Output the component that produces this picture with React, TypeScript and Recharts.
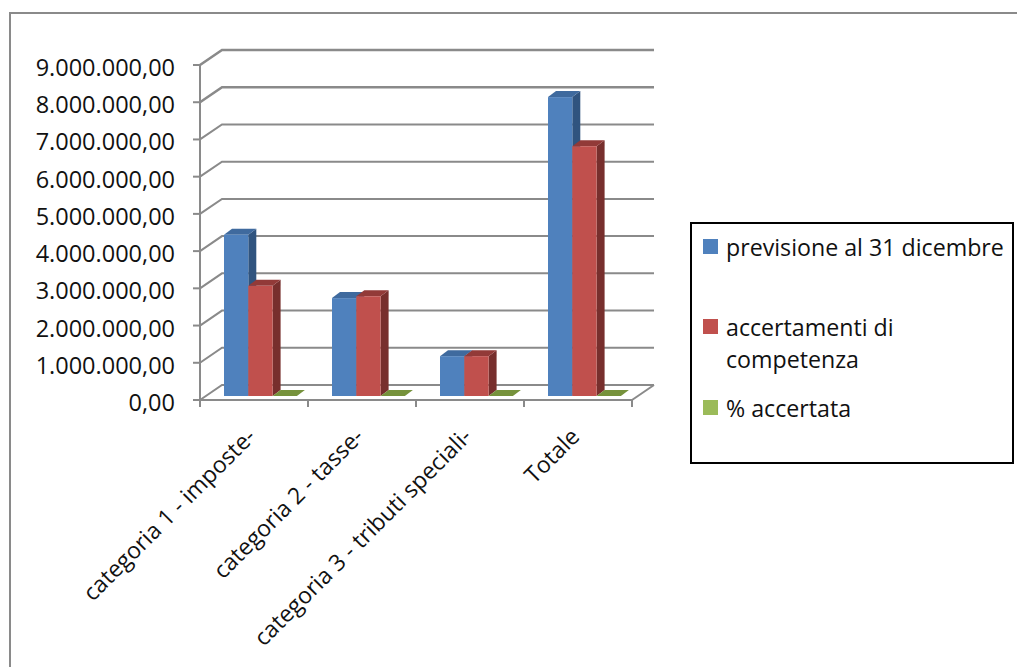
import { BarChart, Bar, XAxis, YAxis, CartesianGrid, Legend } from "recharts";

const categories = [
  "categoria 1 - imposte-",
  "categoria 2 - tasse-",
  "categoria 3 - tributi speciali-",
  "Totale",
];
const previsione = [4330000, 2630000, 1070000, 8030000];
const accertamenti = [2960000, 2680000, 1070000, 6710000];
const accertata = [0.68, 1.02, 1, 0.84];
const yTicks = [0, 1000000, 2000000, 3000000, 4000000, 5000000, 6000000, 7000000, 8000000, 9000000];

const chartData = categories.map((name, i) => ({
  name,
  previsione: previsione[i],
  accertamenti: accertamenti[i],
  accertata: accertata[i],
}));

const FONT = "'Open Sans', sans-serif";
const AXIS_GRAY = "#8a8a8a";
const BAND_WIDTH = 108;

// chart walls: how far the back plane sits from the axis plane
const WALL_DX = 22;
const WALL_DY = -15;
// bars stand partway into the floor, and have this much depth themselves
const BAR_DX = 6;
const BAR_DY = -4;
const DEPTH_DX = 8;
const DEPTH_DY = -6;

const PLOT_BOTTOM = 400;

const sideColors: Record<string, { side: string; top: string }> = {
  "#4f81bd": { side: "#30547f", top: "#3f6a9e" },
  "#c0504d": { side: "#772f2d", top: "#923a38" },
  "#9bbb59": { side: "#5f7a2c", top: "#76923c" },
};

function formatEuro(v: number) {
  const int = String(Math.round(v)).replace(/\B(?=(\d{3})+$)/g, ".");
  return `${int},00`;
}

function Bar3D({ x, y, width, height, fill }: any) {
  const left = x + BAR_DX;
  const top = y + BAR_DY;
  const right = left + width;
  const bottom = top + height;
  const { side, top: topColor } = sideColors[fill];
  return (
    <g>
      <polygon
        points={`${right},${top} ${right + DEPTH_DX},${top + DEPTH_DY} ${right + DEPTH_DX},${bottom + DEPTH_DY} ${right},${bottom}`}
        fill={side}
      />
      <polygon
        points={`${left},${top} ${left + DEPTH_DX},${top + DEPTH_DY} ${right + DEPTH_DX},${top + DEPTH_DY} ${right},${top}`}
        fill={topColor}
      />
      <rect x={left} y={top} width={width} height={height} fill={fill} />
    </g>
  );
}

function WallLine({ x1, y1, x2 }: any) {
  const backY = y1 + WALL_DY;
  const isFloor = Math.abs(y1 - PLOT_BOTTOM) < 1;
  const heavy = y1 < 110;
  return (
    <g>
      <polyline
        points={`${x1},${y1} ${x1 + WALL_DX},${backY} ${x2 + WALL_DX},${backY}`}
        fill="none"
        stroke={AXIS_GRAY}
        strokeWidth={heavy ? 2.6 : 2}
      />
      {isFloor && (
        <line x1={x2} y1={y1} x2={x2 + WALL_DX} y2={backY} stroke={AXIS_GRAY} strokeWidth={2} />
      )}
    </g>
  );
}

function ValueTick({ x, y, payload }: any) {
  return (
    <text x={x} y={y + 11} textAnchor="end" fontSize={23.5} fontFamily={FONT} fill="#111">
      {formatEuro(payload.value)}
    </text>
  );
}

function CategoryTick({ x, payload, index }: any) {
  const tickTop = PLOT_BOTTOM;
  const labelX = x + 3;
  const labelY = tickTop + 38;
  return (
    <g>
      {index === 0 && (
        <line x1={x - BAND_WIDTH / 2} y1={tickTop} x2={x - BAND_WIDTH / 2} y2={tickTop + 7} stroke={AXIS_GRAY} strokeWidth={2} />
      )}
      <line x1={x + BAND_WIDTH / 2} y1={tickTop} x2={x + BAND_WIDTH / 2} y2={tickTop + 7} stroke={AXIS_GRAY} strokeWidth={2} />
      <text
        x={labelX}
        y={labelY}
        textAnchor="end"
        fontSize={23}
        fontFamily={FONT}
        fill="#111"
        transform={`rotate(-45 ${labelX} ${labelY})`}
      >
        {payload.value}
      </text>
    </g>
  );
}

const legendLines: Record<string, string[]> = {
  previsione: ["previsione al 31 dicembre"],
  accertamenti: ["accertamenti di", "competenza"],
  accertata: ["% accertata"],
};
const legendTops: Record<string, number> = { previsione: 10, accertamenti: 90, accertata: 171 };

function LegendBox({ payload }: any) {
  return (
    <div
      style={{
        position: "relative",
        width: 320,
        height: 238,
        border: "2px solid #000",
        fontFamily: FONT,
        fontSize: 23.2,
        lineHeight: "32px",
        color: "#111",
      }}
    >
      {(payload ?? []).map((entry: any) => (
        <div key={entry.dataKey} style={{ position: "absolute", left: 11, top: legendTops[entry.dataKey], whiteSpace: "nowrap" }}>
          <span style={{ position: "absolute", left: 0, top: 5, width: 15, height: 15, background: entry.color }} />
          <div style={{ marginLeft: 23, marginTop: -3 }}>
            {legendLines[entry.dataKey].map((line) => (
              <div key={line}>{line}</div>
            ))}
          </div>
        </div>
      ))}
    </div>
  );
}

export default function App() {
  return (
    <div style={{ position: "absolute", left: 0, top: 0, width: 1017, height: 667, overflow: "hidden", background: "#fff" }}>
      <div
        style={{
          position: "absolute",
          left: 9,
          top: 12,
          width: 1017,
          height: 667,
          borderLeft: `2px solid ${AXIS_GRAY}`,
          borderTop: `2px solid ${AXIS_GRAY}`,
        }}
      />
      <BarChart
        width={1017}
        height={667}
        data={chartData}
        margin={{ top: 65, right: 385, bottom: 167, left: 0 }}
        barSize={24.3}
        barGap={0}
        style={{ position: "absolute", left: 0, top: 0 }}
      >
        <CartesianGrid vertical={false} horizontal={(props: any) => <WallLine {...props} />} />
        <XAxis
          dataKey="name"
          interval={0}
          height={100}
          axisLine={{ stroke: AXIS_GRAY, strokeWidth: 2 }}
          tickLine={false}
          tick={<CategoryTick />}
        />
        <YAxis
          width={200}
          domain={[0, 9000000]}
          ticks={yTicks}
          interval={0}
          axisLine={{ stroke: AXIS_GRAY, strokeWidth: 2 }}
          tickLine={{ stroke: AXIS_GRAY, strokeWidth: 2 }}
          tickSize={7}
          tickMargin={18}
          tick={<ValueTick />}
        />
        <Legend
          layout="horizontal"
          verticalAlign="middle"
          wrapperStyle={{ position: "absolute", left: 690, top: 222, width: 324, height: 242 }}
          content={<LegendBox />}
        />
        <Bar dataKey="previsione" fill="#4f81bd" shape={<Bar3D />} isAnimationActive={false} />
        <Bar dataKey="accertamenti" fill="#c0504d" shape={<Bar3D />} isAnimationActive={false} />
        <Bar dataKey="accertata" fill="#9bbb59" shape={<Bar3D />} isAnimationActive={false} />
      </BarChart>
    </div>
  );
}
